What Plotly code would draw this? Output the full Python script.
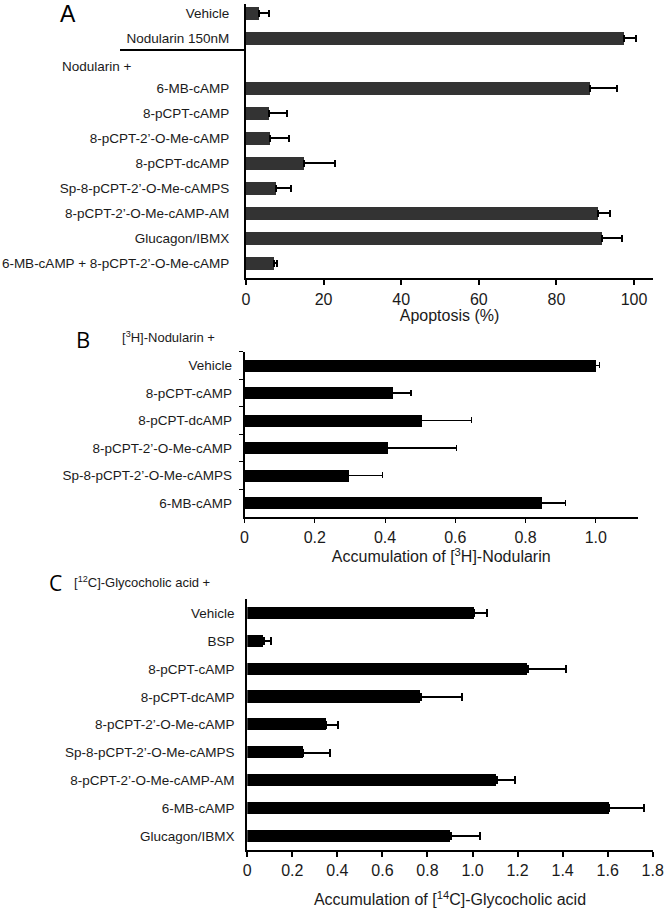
import plotly.graph_objects as go

# ---------------- data ----------------
# Panel A
a_categories = ["Vehicle", "Nodularin 150nM", " ", "6-MB-cAMP", "8-pCPT-cAMP",
                "8-pCPT-2’-O-Me-cAMP", "8-pCPT-dcAMP", "Sp-8-pCPT-2’-O-Me-cAMPS",
                "8-pCPT-2’-O-Me-cAMP-AM", "Glucagon/IBMX", "6-MB-cAMP + 8-pCPT-2’-O-Me-cAMP"]
a_bar_labels = ["Vehicle", "Nodularin 150nM", "6-MB-cAMP", "8-pCPT-cAMP",
                "8-pCPT-2’-O-Me-cAMP", "8-pCPT-dcAMP", "Sp-8-pCPT-2’-O-Me-cAMPS",
                "8-pCPT-2’-O-Me-cAMP-AM", "Glucagon/IBMX", "6-MB-cAMP + 8-pCPT-2’-O-Me-cAMP"]
a_values = [3.4, 97.4, 88.7, 5.8, 6.3, 15.0, 7.7, 90.6, 91.8, 7.3]
a_errors = [2.4, 3.1, 6.8, 4.7, 4.8, 7.9, 3.8, 3.2, 5.0, 0.6]
a_ticks = [0, 20, 40, 60, 80, 100]

# Panel B
b_categories = ["Vehicle", "8-pCPT-cAMP", "8-pCPT-dcAMP", "8-pCPT-2’-O-Me-cAMP",
                "Sp-8-pCPT-2’-O-Me-cAMPS", "6-MB-cAMP"]
b_values = [1.0, 0.421, 0.504, 0.408, 0.297, 0.846]
b_errors = [0.01, 0.053, 0.143, 0.196, 0.096, 0.067]
b_tickvals = [0, 0.2, 0.4, 0.6, 0.8, 1.0]
b_ticktext = ["0", "0.2", "0.4", "0.6", "0.8", "1.0"]

# Panel C
c_categories = ["Vehicle", "BSP", "8-pCPT-cAMP", "8-pCPT-dcAMP", "8-pCPT-2’-O-Me-cAMP",
                "Sp-8-pCPT-2’-O-Me-cAMPS", "8-pCPT-2’-O-Me-cAMP-AM", "6-MB-cAMP", "Glucagon/IBMX"]
c_values = [1.007, 0.073, 1.245, 0.77, 0.351, 0.247, 1.107, 1.606, 0.903]
c_errors = [0.059, 0.032, 0.17, 0.182, 0.05, 0.12, 0.082, 0.156, 0.13]
c_tickvals = [0, 0.2, 0.4, 0.6, 0.8, 1.0, 1.2, 1.4, 1.6, 1.8]
c_ticktext = ["0", "0.2", "0.4", "0.6", "0.8", "1.0", "1.2", "1.4", "1.6", "1.8"]

# ---------------- layout helpers ----------------
W, H = 667, 911
FONT = "Liberation Sans, Arial, Helvetica, sans-serif"
TXT = "#1a1a1a"


def px(x):
    return x / W


def py(y):
    return 1 - y / H


fig = go.Figure()

fig.add_trace(go.Bar(
    x=a_values, y=a_bar_labels, orientation="h", width=0.52,
    marker=dict(color="#333333", line=dict(width=0)),
    error_x=dict(type="data", array=a_errors, arrayminus=[0] * len(a_errors),
                 symmetric=False, color="black", thickness=2, width=3.5),
    xaxis="x", yaxis="y", showlegend=False, hoverinfo="skip"))

fig.add_trace(go.Bar(
    x=b_values, y=b_categories, orientation="h", width=0.43,
    marker=dict(color="black", line=dict(width=0)),
    error_x=dict(type="data", array=b_errors, arrayminus=[0] * len(b_errors),
                 symmetric=False, color="black", thickness=1.2, width=3),
    xaxis="x2", yaxis="y2", showlegend=False, hoverinfo="skip"))

fig.add_trace(go.Bar(
    x=c_values, y=c_categories, orientation="h", width=0.44,
    marker=dict(color="black", line=dict(width=0)),
    error_x=dict(type="data", array=c_errors, arrayminus=[0] * len(c_errors),
                 symmetric=False, color="black", thickness=2, width=4),
    xaxis="x3", yaxis="y3", showlegend=False, hoverinfo="skip"))

tickfont_cat = dict(family=FONT, size=13.5, color=TXT)
tickfont_num = dict(family=FONT, size=16, color=TXT)

fig.update_layout(
    width=W, height=H, autosize=False,
    margin=dict(l=0, r=0, t=0, b=0, autoexpand=False),
    paper_bgcolor="white", plot_bgcolor="white",
    bargap=0,
    # ---- Panel A ----
    xaxis=dict(domain=[px(246), px(653)], anchor="y", range=[0, 104.9], automargin=False,
               tickvals=a_ticks, ticks="outside", ticklen=5, tickwidth=1.5,
               showline=True, linewidth=2, linecolor="black", tickcolor="black",
               showgrid=False, zeroline=False, tickfont=tickfont_num,
               title=dict(text="Apoptosis (%)", font=dict(family=FONT, size=16, color=TXT),
                          standoff=0)),
    yaxis=dict(domain=[py(278.3), py(4)], anchor="x", type="category", automargin=False,
               categoryorder="array", categoryarray=a_categories,
               range=[10.61, -0.36], ticks="", showline=True, linewidth=2,
               linecolor="black", showgrid=False, zeroline=False,
               tickfont=tickfont_cat, ticklabelstandoff=12),
    # ---- Panel B ----
    xaxis2=dict(domain=[px(244.5), px(638)], anchor="y2", range=[0, 1.12], automargin=False,
                tickvals=b_tickvals, ticktext=b_ticktext, ticks="outside", ticklen=5,
                tickwidth=1.2, showline=True, linewidth=1.5, linecolor="black",
                tickcolor="black", showgrid=False, zeroline=False, tickfont=tickfont_num,
                title=dict(text="Accumulation of [<sup>3</sup>H]-Nodularin",
                           font=dict(family=FONT, size=16, color=TXT), standoff=0)),
    yaxis2=dict(domain=[py(516.7), py(351.7)], anchor="x2", type="category", automargin=False,
                categoryorder="array", categoryarray=b_categories,
                range=[5.5, -0.5], ticks="outside", tickson="boundaries", ticklen=4,
                tickwidth=1.2, tickcolor="black", showline=True, linewidth=1.5,
                linecolor="black", showgrid=False, zeroline=False,
                tickfont=tickfont_cat, ticklabelstandoff=8),
    # ---- Panel C ----
    xaxis3=dict(domain=[px(247.3), px(652.7)], anchor="y3", range=[0, 1.8], automargin=False,
                tickvals=c_tickvals, ticktext=c_ticktext, ticks="outside", ticklen=5,
                tickwidth=1.5, showline=True, linewidth=2, linecolor="black",
                tickcolor="black", showgrid=False, zeroline=False, tickfont=tickfont_num,
                title=dict(text="Accumulation of [<sup>14</sup>C]-Glycocholic acid",
                           font=dict(family=FONT, size=16, color=TXT), standoff=16)),
    yaxis3=dict(domain=[py(850), py(599.3)], anchor="x3", type="category", automargin=False,
                categoryorder="array", categoryarray=c_categories,
                range=[8.5, -0.5], ticks="", showline=True, linewidth=2,
                linecolor="black", showgrid=False, zeroline=False,
                tickfont=tickfont_cat, ticklabelstandoff=8),
)

annos = [
    dict(text="A", x=px(67.8), y=py(14.5), font=dict(family=FONT, size=23, color="black"),
         xanchor="center", yanchor="middle"),
    dict(text="Nodularin +", x=px(60), y=py(66.7), font=dict(family=FONT, size=13.5, color=TXT),
         xanchor="left", yanchor="middle"),
    dict(text="B", x=px(82.5), y=py(338.5), font=dict(family="Open Sans, sans-serif", size=22, color="black"),
         xanchor="center", yanchor="middle"),
    dict(text="[<sup>3</sup>H]-Nodularin +", x=px(120), y=py(337),
         font=dict(family=FONT, size=13, color=TXT), xanchor="left", yanchor="middle"),
    dict(text="C", x=px(55), y=py(582.5), font=dict(family="Open Sans, sans-serif", size=21, color="black"),
         xanchor="center", yanchor="middle"),
    dict(text="[<sup>12</sup>C]-Glycocholic acid +", x=px(72), y=py(582),
         font=dict(family=FONT, size=13, color=TXT), xanchor="left", yanchor="middle"),
]
for a in annos:
    fig.add_annotation(xref="paper", yref="paper", showarrow=False, **a)

fig.add_shape(type="line", xref="paper", yref="paper",
              x0=px(120), x1=px(246), y0=py(50), y1=py(50),
              line=dict(color="black", width=2))

post = "document.body.style.margin='0';document.body.style.overflow='hidden';"

fig.write_html("out.html", config={"displayModeBar": False}, post_script=post)
